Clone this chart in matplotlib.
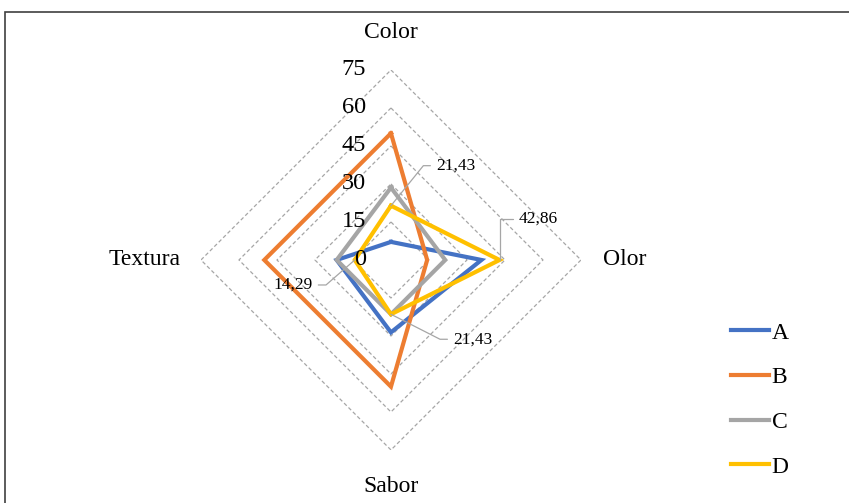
import numpy as np
import matplotlib
matplotlib.use("Agg")
import matplotlib.pyplot as plt

plt.rcParams['font.family'] = ['Liberation Serif', 'DejaVu Serif']

categories = ['Color', 'Olor', 'Sabor', 'Textura']
series_names = ['A', 'B', 'C', 'D']
vals_a = [7.14, 35.71, 28.57, 21.43]
vals_b = [50.00, 14.29, 50.00, 50.00]
vals_c = [28.57, 21.43, 21.43, 21.43]
vals_d = [21.43, 42.86, 21.43, 14.29]
ring_ticks = [0, 15, 30, 45, 60, 75]

colors = ['#4472C4', '#ED7D31', '#A5A5A5', '#FFC000']

fig = plt.figure(figsize=(8.49, 5.03), dpi=100)
ax = fig.add_axes([0.2367, 0.1054, 0.4476, 0.7555], projection='polar')
ax.set_theta_zero_location('N')
ax.set_theta_direction(-1)

angles = np.linspace(0, 2 * np.pi, len(categories), endpoint=False)
closed = np.append(angles, angles[0])

# dashed diamond rings
for r in ring_ticks[1:]:
    ax.plot(closed, [r] * len(closed), color='#a6a6a6', lw=0.9,
            ls=(0, (3, 2)), zorder=1)

for name, vals, c in zip(series_names, [vals_a, vals_b, vals_c, vals_d], colors):
    ax.plot(closed, vals + vals[:1], color=c, lw=3, label=name, zorder=3,
            solid_joinstyle='miter')

ax.set_ylim(0, 75)
ax.grid(False)
ax.set_xticks([])
ax.set_yticks([])
ax.spines['polar'].set_visible(False)

# ring value labels along the top spoke
for r in ring_ticks:
    ax.annotate(str(r), xy=(0, r), xytext=(-25, 0), textcoords='offset pixels',
                ha='right', va='center', fontsize=17.5)

# category labels
ax.text(0, 89.6, categories[0], ha='center', va='center', fontsize=17)
ax.text(angles[1], 83.5, categories[1], ha='left', va='center', fontsize=17)
ax.text(angles[2], 89.6, categories[2], ha='center', va='center', fontsize=17)
ax.text(angles[3], 83.0, categories[3], ha='right', va='center', fontsize=17)

# data labels for series D
label_specs = [
    ((45, 40), 'left', 'angle,angleA=0,angleB=51,rad=0'),
    ((19, 41), 'left', 'angle,angleA=0,angleB=90,rad=0'),
    ((62, -25), 'left', 'angle,angleA=0,angleB=-27,rad=0'),
    ((-42, -25), 'right', 'angle,angleA=0,angleB=41,rad=0'),
]
for th, v, (off, ha, cs) in zip(angles, vals_d, label_specs):
    ax.annotate(f'{v:.2f}'.replace('.', ','), xy=(th, v), xytext=off,
                textcoords='offset pixels', ha=ha, va='center', fontsize=12.5,
                arrowprops=dict(arrowstyle='-', color='#a6a6a6', lw=0.9,
                                connectionstyle=cs, shrinkA=2, shrinkB=0,
                                relpos=(0 if ha == 'left' else 1, 0.5)),
                zorder=5)

fig.legend(loc='upper left', bbox_to_anchor=(0.8356, 0.402), frameon=False,
           fontsize=17, handlelength=1.63, handletextpad=0.1, labelspacing=0.98)

fig.add_artist(plt.Rectangle((5 / 849, -0.1), 1.2, 491 / 503 + 0.1,
                             transform=fig.transFigure, fill=False,
                             lw=1.2, ec='#404040'))

fig.savefig('out.png', dpi=100)
